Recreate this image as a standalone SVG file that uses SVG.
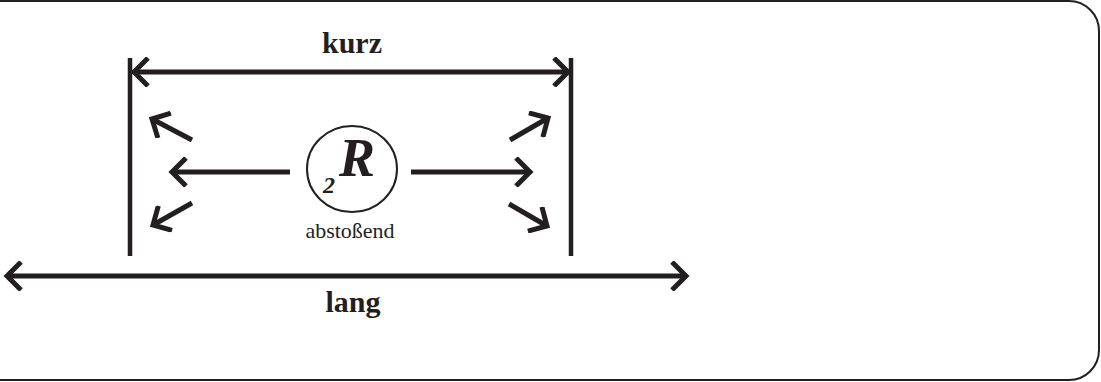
<svg xmlns="http://www.w3.org/2000/svg" width="1101" height="382" viewBox="0 0 1101 382">
<style>
.ln{stroke:#231f20;stroke-width:5;fill:none}
.bar{stroke:#231f20;stroke-width:4.5;fill:none}
text{font-family:'Liberation Serif','Times New Roman','DejaVu Serif',serif;fill:#231f20}
</style>
<defs>
<marker id="ch" markerUnits="userSpaceOnUse" markerWidth="30" markerHeight="30" viewBox="-20 -15 25 30" refX="0" refY="0" orient="auto-start-reverse">
<path d="M-14,-14 L0,0 L-14,14" fill="none" stroke="#231f20" stroke-width="5"/>
</marker>
</defs>
<rect x="-40" y="1" width="1139" height="379" rx="30" ry="30" fill="#ffffff" stroke="#231f20" stroke-width="2"/>
<g id="connectors">
<line class="bar" x1="130" y1="58" x2="130" y2="256"/>
<line class="bar" x1="571" y1="58" x2="571" y2="256"/>
<line class="ln" x1="134" y1="72" x2="568" y2="72" marker-start="url(#ch)" marker-end="url(#ch)"/>
<line class="ln" x1="7" y1="276" x2="686" y2="276" marker-start="url(#ch)" marker-end="url(#ch)"/>
<line class="ln" x1="290" y1="172" x2="172" y2="172" marker-end="url(#ch)"/>
<line class="ln" x1="411" y1="172" x2="530" y2="172" marker-end="url(#ch)"/>
<line class="ln" x1="192" y1="140" x2="152" y2="119" marker-end="url(#ch)"/>
<line class="ln" x1="192" y1="203" x2="153" y2="225" marker-end="url(#ch)"/>
<line class="ln" x1="510" y1="140" x2="548" y2="118" marker-end="url(#ch)"/>
<line class="ln" x1="509" y1="204" x2="547" y2="226" marker-end="url(#ch)"/>
</g>
<g id="kurz">
<text x="352" y="53" font-size="30" font-weight="bold" text-anchor="middle">kurz</text>
</g>
<g id="lang">
<text x="353" y="312" font-size="30" font-weight="bold" text-anchor="middle">lang</text>
</g>
<g id="R">
<ellipse cx="352" cy="169" rx="45" ry="43" fill="none" stroke="#231f20" stroke-width="2"/>
<text x="339" y="176" font-size="54" font-weight="bold" font-style="italic">R</text>
<text x="323" y="193" font-size="24" font-weight="bold" font-style="italic">2</text>
<text x="350" y="238" font-size="22" text-anchor="middle">abstoßend</text>
</g>
</svg>
